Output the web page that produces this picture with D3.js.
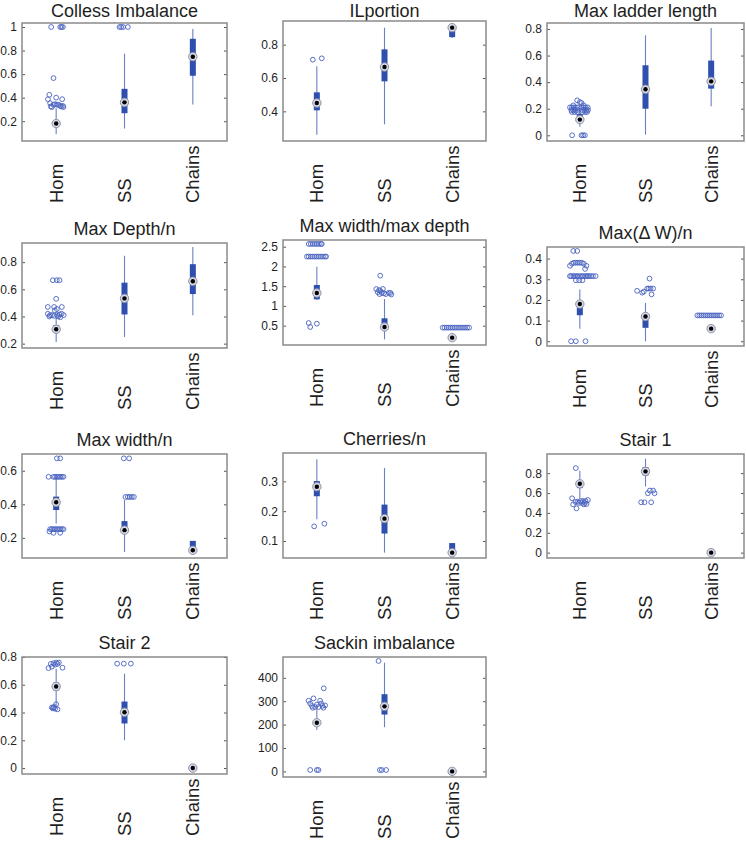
<!DOCTYPE html>
<html><head><meta charset="utf-8">
<script src="https://cdn.jsdelivr.net/npm/d3@7"></script>
<style>body{margin:0;background:#fff}svg{display:block}text{font-family:"Liberation Sans",Arial,sans-serif;fill:#1e1e1e}</style>
</head><body><svg id="c" width="746" height="841"></svg>
<script>
// ---------- DATA ----------
const categories = ["Hom", "SS", "Chains"];
const titles = ["Colless Imbalance", "ILportion", "Max ladder length", "Max Depth/n",
  "Max width/max depth", "Max(\u0394 W)/n", "Max width/n", "Cherries/n", "Stair 1", "Stair 2", "Sackin imbalance"];

// stats per category: [whiskerLow, q1, median, q3, whiskerHigh]
// outliers: [categoryIndex, value, jitter (category units)]
const collessStats = [[0.092, 0.16, 0.18, 0.205, 0.31], [0.138, 0.268, 0.36, 0.475, 0.773], [0.342, 0.586, 0.748, 0.90, 0.983]];
const collessOutliers = [[0,1,-0.073],[0,1,0.059],[0,1,0.078],[0,1,0.098],[0,0.566,-0.039],[0,0.424,-0.10],[0,0.387,-0.12],[0,0.387,0.088],[0,0.40,0],
  [0,0.353,-0.088],[0,0.34,-0.039],[0,0.345,-0.015],[0,0.34,0.01],[0,0.34,0.034],[0,0.33,0.059],[0,0.325,0.073],[0,0.33,0.098],[0,0.32,0.107],[0,0.325,-0.078],[0,0.32,-0.063],
  [1,1,-0.073],[1,1,-0.049],[1,1,-0.02],[1,1,0.049]];
const collessTicks = [0.2, 0.4, 0.6, 0.8, 1];
const collessDomain = [0.032, 1.034];

const ilStats = [[0.26, 0.406, 0.45, 0.514, 0.67], [0.322, 0.58, 0.666, 0.772, 0.902], [0.84, 0.845, 0.902, 0.915, 0.92]];
const ilOutliers = [[0,0.71,-0.059],[0,0.718,0.073]];
const ilTicks = [0.4, 0.6, 0.8];
const ilDomain = [0.222, 0.942];

const ladderStats = [[0.065, 0.10, 0.118, 0.16, 0.17], [0.005, 0.20, 0.346, 0.527, 0.752], [0.218, 0.351, 0.406, 0.562, 0.807]];
const ladderOutliers = [[0,0,-0.117],[0,0,0.026],[0,0,0.05],[0,0,0.077],[0,0.263,-0.04],[0,0.25,0],[0,0.243,0.026],
  [0,0.21,-0.15],[0,0.21,-0.12],[0,0.21,-0.09],[0,0.21,-0.06],[0,0.21,-0.03],[0,0.21,0.03],[0,0.21,0.06],[0,0.21,0.09],[0,0.21,0.12],
  [0,0.19,-0.13],[0,0.19,-0.1],[0,0.19,-0.07],[0,0.19,-0.04],[0,0.19,0.04],[0,0.19,0.07],[0,0.19,0.1],[0,0.19,0.125],
  [0,0.175,-0.12],[0,0.175,-0.08],[0,0.175,-0.04],[0,0.175,0.04],[0,0.175,0.08],[0,0.175,0.11],[0,0.225,-0.1],[0,0.225,0.06]];
const ladderTicks = [0, 0.2, 0.4, 0.6, 0.8];
const ladderDomain = [-0.043, 0.845];

const depthStats = [[0.212, 0.28, 0.306, 0.336, 0.39], [0.249, 0.415, 0.533, 0.649, 0.847], [0.41, 0.565, 0.659, 0.785, 0.911]];
const depthOutliers = [[0,0.667,-0.049],[0,0.667,0.01],[0,0.667,0.049],[0,0.53,0],[0,0.47,-0.122],[0,0.47,-0.03],[0,0.455,0.01],[0,0.47,0.083],[0,0.445,-0.02],
  [0,0.42,-0.122],[0,0.41,-0.09],[0,0.41,-0.06],[0,0.405,-0.03],[0,0.41,0.02],[0,0.415,0.05],[0,0.42,0.08],[0,0.41,0.11],[0,0.40,-0.1],[0,0.395,0.06],[0,0.40,0.03]];
const depthTicks = [0.2, 0.4, 0.6, 0.8];
const depthDomain = [0.168, 0.941];

const wdStats = [[1.15, 1.167, 1.327, 1.53, 1.99], [0.154, 0.39, 0.466, 0.686, 1.175], [0.19, 0.19, 0.196, 0.2, 0.2]];
const wdOutliers = [[0,2.57,-0.12],[0,2.57,-0.09],[0,2.57,-0.06],[0,2.57,-0.03],[0,2.57,0],[0,2.57,0.03],[0,2.57,0.06],[0,2.57,0.073],
  [0,2.25,-0.146],[0,2.25,-0.12],[0,2.25,-0.09],[0,2.25,-0.06],[0,2.25,-0.03],[0,2.25,0],[0,2.25,0.03],[0,2.25,0.06],[0,2.25,0.09],[0,2.25,0.12],[0,2.25,0.137],
  [0,0.567,-0.12],[0,0.466,-0.098],[0,0.55,0],
  [1,1.766,-0.063],[1,1.428,-0.122],[1,1.378,-0.059],[1,1.43,-0.024],[1,1.35,-0.1],[1,1.3,-0.073],[1,1.33,-0.04],[1,1.32,-0.01],[1,1.3,0.02],[1,1.33,0.063],[1,1.33,0.088],[1,1.29,0.1],[1,1.4,-0.08],
  [2,0.45,-0.14],[2,0.45,-0.11],[2,0.45,-0.08],[2,0.45,-0.05],[2,0.45,-0.02],[2,0.45,0.01],[2,0.45,0.04],[2,0.45,0.07],[2,0.45,0.1],[2,0.45,0.13],[2,0.45,0.16],[2,0.45,0.19],[2,0.45,0.22],[2,0.45,0.25]];
const wdTicks = [0.5, 1, 1.5, 2, 2.5];
const wdDomain = [0.01, 2.67];

const dwStats = [[0.061, 0.126, 0.18, 0.185, 0.25], [0.0, 0.065, 0.12, 0.122, 0.185], [0.061, 0.061, 0.061, 0.061, 0.061]];
const dwOutliers = [[0,0.437,-0.1],[0,0.437,-0.04],
  [0,0.365,-0.15],[0,0.375,-0.12],[0,0.38,-0.09],[0,0.38,-0.06],[0,0.38,-0.03],[0,0.38,0],[0,0.38,0.03],[0,0.375,0.06],[0,0.365,0.1],[0,0.35,0.08],
  [0,0.315,-0.15],[0,0.315,-0.13],[0,0.315,-0.1],[0,0.315,-0.08],[0,0.315,-0.05],[0,0.315,-0.03],[0,0.315,0],[0,0.315,0.03],[0,0.315,0.05],[0,0.315,0.08],[0,0.315,0.1],[0,0.315,0.12],[0,0.315,0.14],[0,0.315,0.17],[0,0.315,0.2],[0,0.315,0.24],
  [0,0.295,-0.06],[0,0.295,-0.01],[0,0.295,0.04],[0,0,-0.133],[0,0,-0.061],[0,0,0.087],
  [1,0.244,-0.128],[1,0.235,-0.05],[1,0.24,-0.026],[1,0.255,0.026],[1,0.255,0.05],[1,0.255,0.077],[1,0.255,0.117],[1,0.303,0.061],[1,0.227,0.092],
  [2,0.125,-0.21],[2,0.125,-0.18],[2,0.125,-0.15],[2,0.125,-0.12],[2,0.125,-0.09],[2,0.125,-0.06],[2,0.125,-0.03],[2,0.125,0],[2,0.125,0.03],[2,0.125,0.06],[2,0.125,0.09],[2,0.125,0.12],[2,0.125,0.15]];
const dwTicks = [0, 0.1, 0.2, 0.3, 0.4];
const dwDomain = [-0.023, 0.456];

const widthStats = [[0.286, 0.366, 0.412, 0.446, 0.566], [0.116, 0.23, 0.246, 0.30, 0.426], [0.12, 0.12, 0.126, 0.182, 0.182]];
const widthOutliers = [[0,0.674,0.01],[0,0.674,0.059],
  [0,0.564,-0.112],[0,0.564,-0.039],[0,0.564,-0.015],[0,0.564,0.01],[0,0.564,0.034],[0,0.564,0.059],[0,0.564,0.083],[0,0.564,0.107],
  [0,0.252,-0.088],[0,0.252,-0.063],[0,0.252,-0.039],[0,0.252,-0.015],[0,0.252,0.01],[0,0.252,0.034],[0,0.252,0.059],[0,0.252,0.083],[0,0.252,0.107],
  [0,0.238,-0.098],[0,0.23,-0.039],[0,0.23,0.059],
  [1,0.674,-0.01],[1,0.674,0.068],[1,0.444,0.015],[1,0.444,0.049],[1,0.444,0.078],[1,0.444,0.107],[1,0.444,0.137]];
const widthTicks = [0.2, 0.4, 0.6];
const widthDomain = [0.08, 0.70];

const cherryStats = [[0.173, 0.25, 0.282, 0.301, 0.374], [0.061, 0.125, 0.175, 0.222, 0.345], [0.058, 0.058, 0.061, 0.093, 0.093]];
const cherryOutliers = [[0,0.149,-0.039],[0,0.158,0.112]];
const cherryTicks = [0.1, 0.2, 0.3];
const cherryDomain = [0.043, 0.395];

const stair1Stats = [[0.547, 0.65, 0.693, 0.72, 0.824], [0.666, 0.777, 0.818, 0.861, 0.946], [0, 0, 0, 0, 0]];
const stair1Outliers = [[0,0.851,-0.061],[0,0.547,-0.117],[0,0.486,-0.102],[0,0.446,-0.051],[0,0.513,-0.031],[0,0.52,0.01],[0,0.52,0.046],[0,0.52,0.087],[0,0.53,0.122],
  [0,0.486,0.061],[0,0.49,0.102],[0,0.50,-0.015],[0,0.51,-0.066],[0,0.50,0.031],[0,0.50,0.077],
  [1,0.507,-0.066],[1,0.507,-0.015],[1,0.507,0.087],[1,0.598,0.036],[1,0.625,0.066],[1,0.625,0.117],[1,0.598,0.138]];
const stair1Ticks = [0, 0.2, 0.4, 0.6, 0.8];
const stair1Domain = [-0.054, 0.993];

const stair2Stats = [[0.453, 0.56, 0.587, 0.615, 0.716], [0.2, 0.321, 0.402, 0.479, 0.68], [0, 0, 0, 0, 0]];
const stair2Outliers = [[0,0.75,-0.078],[0,0.755,-0.039],[0,0.76,0],[0,0.75,0.02],[0,0.76,0.039],[0,0.73,-0.063],[0,0.72,-0.112],[0,0.723,0.093],[0,0.745,-0.015],
  [0,0.437,-0.063],[0,0.43,-0.049],[0,0.44,-0.029],[0,0.427,-0.015],[0,0.423,0.02],[0,0.46,0],[0,0.435,-0.039],
  [1,0.752,-0.107],[1,0.752,-0.01],[1,0.752,0.093]];
const stair2Ticks = [0, 0.2, 0.4, 0.6, 0.8];
const stair2Domain = [-0.043, 0.80];

const sackinStats = [[177, 199, 208, 220, 262], [189, 243, 278, 330, 465], [0, 0, 0, 0, 0]];
const sackinOutliers = [[0,355,0.102],[0,302,-0.122],[0,312,-0.049],[0,290,-0.098],[0,280,-0.073],[0,275,-0.024],[0,275,0.024],[0,302,0.049],[0,290,0.063],[0,280,0.083],[0,282,0.122],[0,272,0.098],[0,285,0],[0,272,-0.059],
  [0,6,-0.098],[0,6,0],[0,6,0.024],
  [1,472,-0.088],[1,6,-0.068],[1,6,-0.039],[1,6,0.024]];
const sackinTicks = [0, 100, 200, 300, 400];
const sackinDomain = [-24, 489];

const panels = [
  {stats: collessStats, outliers: collessOutliers, ticks: collessTicks, domain: collessDomain},
  {stats: ilStats, outliers: ilOutliers, ticks: ilTicks, domain: ilDomain},
  {stats: ladderStats, outliers: ladderOutliers, ticks: ladderTicks, domain: ladderDomain},
  {stats: depthStats, outliers: depthOutliers, ticks: depthTicks, domain: depthDomain},
  {stats: wdStats, outliers: wdOutliers, ticks: wdTicks, domain: wdDomain},
  {stats: dwStats, outliers: dwOutliers, ticks: dwTicks, domain: dwDomain},
  {stats: widthStats, outliers: widthOutliers, ticks: widthTicks, domain: widthDomain},
  {stats: cherryStats, outliers: cherryOutliers, ticks: cherryTicks, domain: cherryDomain},
  {stats: stair1Stats, outliers: stair1Outliers, ticks: stair1Ticks, domain: stair1Domain},
  {stats: stair2Stats, outliers: stair2Outliers, ticks: stair2Ticks, domain: stair2Domain},
  {stats: sackinStats, outliers: sackinOutliers, ticks: sackinTicks, domain: sackinDomain}
].map((p, i) => Object.assign({title: titles[i]}, p));

// ---------- LAYOUT ----------
const frames = [
  [22, 227, 23, 141], [283, 486, 21, 141], [547, 744, 23, 141],
  [22, 227, 243, 348], [283, 486, 240, 345], [547, 744, 247, 346],
  [22, 227, 454, 558], [283, 486, 453, 558], [547, 744, 454, 558],
  [22, 227, 657, 774], [283, 486, 657, 777]
];

const svg = d3.select("#c");
const boxColor = "#2f4fae", whiskerColor = "#6880c8", outColor = "#4862bf", frameColor = "#8a8a8a";

panels.forEach((p, i) => {
  const [x0, x1, y0, y1] = frames[i];
  const g = svg.append("g");
  const x = d3.scaleLinear().domain([0.5, 3.5]).range([x0, x1]);
  const y = d3.scaleLinear().domain(p.domain).range([y1, y0]);

  // title (kept fully inside the page)
  g.append("text").attr("x", (x0 + x1) / 2).attr("y", Math.max(y0 - 8, 16.8))
    .attr("text-anchor", "middle").style("font-size", "18px").text(p.title);

  // axes
  const ya = g.append("g").attr("transform", `translate(${x0},0)`)
    .call(d3.axisLeft(y).tickValues(p.ticks).tickFormat(d => String(d)).tickSizeInner(-3).tickSizeOuter(0).tickPadding(5));
  ya.select(".domain").remove();
  ya.selectAll("line").attr("stroke", "#555");
  ya.selectAll("text").style("font-size", "12px").style("font-family", '"Liberation Sans",Arial,sans-serif').attr("fill", "#1e1e1e");
  const yr = g.append("g").attr("transform", `translate(${x1},0)`)
    .call(d3.axisRight(y).tickValues(p.ticks).tickFormat("").tickSizeInner(-3).tickSizeOuter(0));
  yr.select(".domain").remove();
  yr.selectAll("line").attr("stroke", "#555");

  g.append("rect").attr("x", x0).attr("y", y0).attr("width", x1 - x0).attr("height", y1 - y0)
    .attr("fill", "none").attr("stroke", frameColor).attr("stroke-width", 1.5);

  // category labels
  categories.forEach((c, k) => {
    g.append("text").attr("transform", `translate(${x(k + 1)},${y1 + 62}) rotate(-90)`)
      .attr("dy", "0.35em").attr("text-anchor", "start").style("font-size", "18.5px").text(c);
  });

  // boxes
  p.stats.forEach((s, k) => {
    const cx = x(k + 1);
    const [lo, q1, med, q3, hi] = s;
    if (hi > lo) g.append("line").attr("x1", cx).attr("x2", cx).attr("y1", y(lo)).attr("y2", y(hi))
      .attr("stroke", whiskerColor).attr("stroke-width", 1.1);
    if (q3 > q1) g.append("rect").attr("x", cx - 3).attr("width", 6).attr("y", y(q3)).attr("height", y(q1) - y(q3))
      .attr("fill", boxColor);
  });

  // outliers
  g.selectAll("circle.o").data(p.outliers).join("circle").attr("class", "o")
    .attr("cx", d => x(d[0] + 1 + d[2])).attr("cy", d => y(d[1])).attr("r", 2.4)
    .attr("fill", "none").attr("stroke", outColor).attr("stroke-width", 0.9);

  // medians
  p.stats.forEach((s, k) => {
    const cx = x(k + 1), cy = y(s[2]);
    g.append("circle").attr("cx", cx).attr("cy", cy).attr("r", 4.2).attr("fill", "#d8dae6").attr("stroke", "#8d91a8").attr("stroke-width", 1);
    g.append("circle").attr("cx", cx).attr("cy", cy).attr("r", 2.2).attr("fill", "#000");
  });
});
</script></body></html>
